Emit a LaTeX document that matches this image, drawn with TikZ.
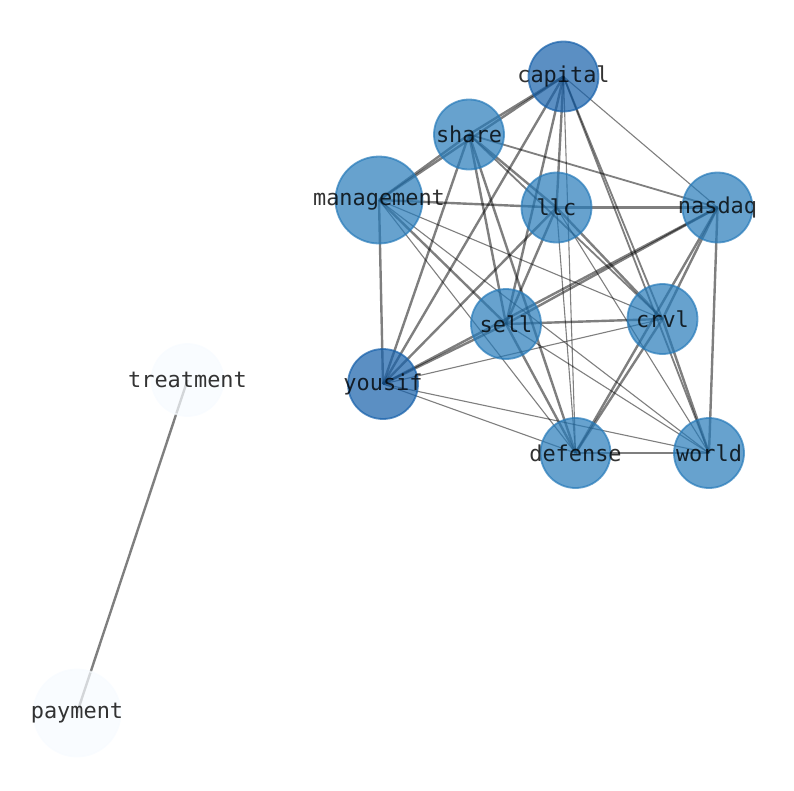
\documentclass[tikz,border=0pt]{standalone}
\usepackage{fontspec}
\newfontfamily\wordfont{DejaVu Sans Mono}
\usetikzlibrary{backgrounds}
\definecolor{blueDeep}{RGB}{22,96,170}
\definecolor{blueSoft}{RGB}{38,122,185}
\definecolor{bluePale}{RGB}{247,251,255}
\tikzset{
  term/.style={
    circle, inner sep=0pt, minimum size=70pt, line width=1.8pt,
    fill opacity=0.7, draw opacity=0.7
  },
  termdeep/.style={term, fill=blueDeep, draw=blueDeep},
  termsoft/.style={term, fill=blueSoft, draw=blueSoft},
  termpale/.style={term, fill=bluePale, draw=bluePale},
  word/.style={
    font=\wordfont\fontsize{21.9}{24}\selectfont, text=black,
    text opacity=0.8, fill opacity=1, inner sep=0pt
  },
  link/.style={draw=black, draw opacity=0.5, line width=1.1pt},
  linkmid/.style={link, line width=1.8pt},
  linkbold/.style={link, line width=2.4pt}
}

\begin{document}
\begin{tikzpicture}[x=1pt, y=-1pt]
      \useasboundingbox (0,0) rectangle (794,790);

      % Terms
      \node[termdeep, label={[word]center:capital}] (capital) at (563.5,76.5) {};
      \node[termsoft, label={[word]center:share}] (share) at (469,134.5) {};
      \node[termsoft, minimum size=87pt, label={[word]center:management}] (management) at (379,200) {};
      \node[termsoft, label={[word]center:llc}] (llc) at (556.5,207.5) {};
      \node[termsoft, label={[word]center:nasdaq}] (nasdaq) at (717.5,207.5) {};
      \node[termsoft, label={[word]center:sell}] (sell) at (506,324) {};
      \node[termsoft, label={[word]center:crvl}] (crvl) at (662.5,319) {};
      \node[termdeep, label={[word]center:yousif}] (yousif) at (383,384) {};
      \node[termsoft, label={[word]center:defense}] (defense) at (575.5,453) {};
      \node[termsoft, label={[word]center:world}] (world) at (709,453) {};
      \node[termpale, minimum size=72pt, label={[word]center:treatment}] (treatment) at (187.5,380) {};
      \node[termpale, minimum size=87pt, label={[word]center:payment}] (payment) at (77,713) {};

      \begin{scope}[on background layer]
      % Strong links
      \draw[linkbold] (capital.center) -- (share.center);
      \draw[linkbold] (capital.center) -- (management.center);
      \draw[linkbold] (capital.center) -- (yousif.center);
      \draw[linkbold] (capital.center) -- (sell.center);
      \draw[linkbold] (capital.center) -- (llc.center);
      \draw[linkbold] (share.center) -- (management.center);
      \draw[linkmid] (share.center) -- (nasdaq.center);
      \draw[linkbold] (share.center) -- (llc.center);
      \draw[linkbold] (share.center) -- (yousif.center);
      \draw[linkbold] (share.center) -- (sell.center);
      \draw[linkbold] (share.center) -- (defense.center);
      \draw[linkmid] (share.center) -- (crvl.center);
      \draw[linkbold] (management.center) -- (llc.center);
      \draw[linkbold] (management.center) -- (yousif.center);
      \draw[linkbold] (management.center) -- (sell.center);
      \draw[linkbold] (llc.center) -- (nasdaq.center);
      \draw[linkbold] (llc.center) -- (sell.center);
      \draw[linkbold] (llc.center) -- (yousif.center);
      \draw[linkbold] (llc.center) -- (crvl.center);
      \draw[linkbold] (nasdaq.center) -- (sell.center);
      \draw[linkbold] (nasdaq.center) -- (yousif.center);
      \draw[linkbold] (nasdaq.center) -- (crvl.center);
      \draw[linkbold] (nasdaq.center) -- (defense.center);
      \draw[linkbold] (nasdaq.center) -- (world.center);
      \draw[linkbold] (sell.center) -- (crvl.center);
      \draw[linkbold] (sell.center) -- (yousif.center);
      \draw[linkbold] (sell.center) -- (defense.center);
      \draw[linkbold] (crvl.center) -- (defense.center);
      \draw[linkbold] (crvl.center) -- (world.center);
      \draw[linkbold] (defense.center) -- (world.center);
      \draw[linkbold] (treatment.center) -- (payment.center);

      % Medium links
      \draw[linkmid] (capital.center) -- (crvl.center);
      \draw[linkmid] (capital.center) -- (world.center);

      % Thin links
      \draw[link] (capital.center) -- (defense.center);
      \draw[link] (capital.center) -- (nasdaq.center);
      \draw[link] (management.center) -- (defense.center);
      \draw[link] (management.center) -- (crvl.center);
      \draw[link] (management.center) -- (world.center);
      \draw[link] (llc.center) -- (defense.center);
      \draw[link] (llc.center) -- (world.center);
      \draw[link] (sell.center) -- (world.center);
      \draw[link] (crvl.center) -- (yousif.center);
      \draw[link] (yousif.center) -- (defense.center);
      \draw[link] (yousif.center) -- (world.center);
      \end{scope}
    \end{tikzpicture}
\end{document}
